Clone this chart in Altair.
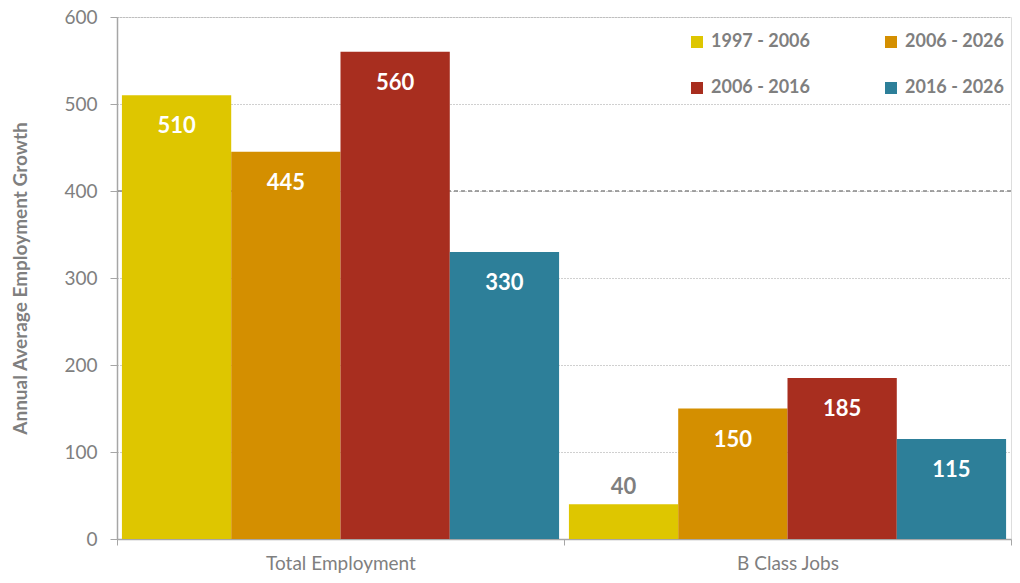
import altair as alt
import pandas as pd

categories = ["Total Employment", "B Class Jobs"]
periods = ["1997 - 2006", "2006 - 2026", "2006 - 2016", "2016 - 2026"]
legend_order = ["1997 - 2006", "2006 - 2016", "2006 - 2026", "2016 - 2026"]
total_employment = [510, 445, 560, 330]
b_class_jobs = [40, 150, 185, 115]
colors = {"1997 - 2006": "#DEC600", "2006 - 2026": "#D48F00",
          "2006 - 2016": "#A82E1F", "2016 - 2026": "#2D7F99"}
y_ticks = [0, 100, 200, 300, 400, 500, 600]
ref_line = [400]

rows = []
for cat, vals in zip(categories, [total_employment, b_class_jobs]):
    for p, v in zip(periods, vals):
        rows.append({"category": cat, "period": p, "value": v})
df = pd.DataFrame(rows)

FONT = "Lato"
GRAY = "#7f7f7f"

base = alt.Chart(df)

x_enc = alt.X("category:N", sort=categories, title=None,
              scale=alt.Scale(paddingInner=0, paddingOuter=0),
              axis=alt.Axis(labelAngle=0, labelFontSize=19, labelColor=GRAY,
                            labelFont=FONT, labelPadding=9, tickBand="extent",
                            tickSize=6, tickColor="#a6a6a6", domainColor="#a6a6a6",
                            domainWidth=1.5))
xoff = alt.XOffset("period:N", sort=periods,
                   scale=alt.Scale(paddingInner=0, paddingOuter=0.045))
y_enc = alt.Y("value:Q", title="Annual Average Employment Growth",
              scale=alt.Scale(domain=[0, 600]),
              axis=alt.Axis(values=y_ticks, labelFontSize=19, labelColor=GRAY,
                            labelFont=FONT, labelPadding=13, tickSize=7,
                            tickColor="#a6a6a6", domainColor="#a6a6a6", domainWidth=1.5,
                            gridDash=[1, 2], gridColor="#a0a0a0", gridWidth=1,
                            titleFont=FONT, titleFontSize=19, titleFontWeight="bold",
                            titleColor=GRAY, titlePadding=33))

ref = alt.Chart(pd.DataFrame({"v": ref_line})).mark_rule(
    color="#888888", strokeDash=[4, 3], strokeWidth=1.5
).encode(y=alt.Y("v:Q"))

bars = base.mark_bar().encode(
    x=x_enc, xOffset=xoff, y=y_enc,
    color=alt.Color("period:N", title=None,
                    scale=alt.Scale(domain=legend_order,
                                    range=[colors[p] for p in legend_order]),
                    legend=alt.Legend(orient="none", legendX=571, legendY=16,
                                      columns=2, columnPadding=72, rowPadding=28,
                                      symbolType="square", symbolSize=144,
                                      symbolStrokeWidth=0, symbolOpacity=1,
                                      labelFontSize=18, labelFont=FONT,
                                      labelFontWeight="bold", labelColor=GRAY,
                                      labelOffset=5)),
)

inside = base.transform_filter("datum.value >= 100").mark_text(
    color="white", fontSize=22, fontWeight="bold", font=FONT, dy=31, baseline="middle"
).encode(x=alt.X("category:N", sort=categories), xOffset=xoff,
         y=alt.Y("value:Q"), text=alt.Text("value:Q"))

outside = base.transform_filter("datum.value < 100").mark_text(
    color=GRAY, fontSize=22, fontWeight="bold", font=FONT, dy=-17, baseline="middle"
).encode(x=alt.X("category:N", sort=categories), xOffset=xoff,
         y=alt.Y("value:Q"), text=alt.Text("value:Q"))

chart = alt.layer(ref, bars, inside, outside).properties(
    width=894, height=522, padding={"left": 3, "top": 0, "right": 0, "bottom": 0}
).configure_view(stroke=None).configure(background="white")

chart.save("out.html", embed_options={"renderer": "svg", "actions": False})
